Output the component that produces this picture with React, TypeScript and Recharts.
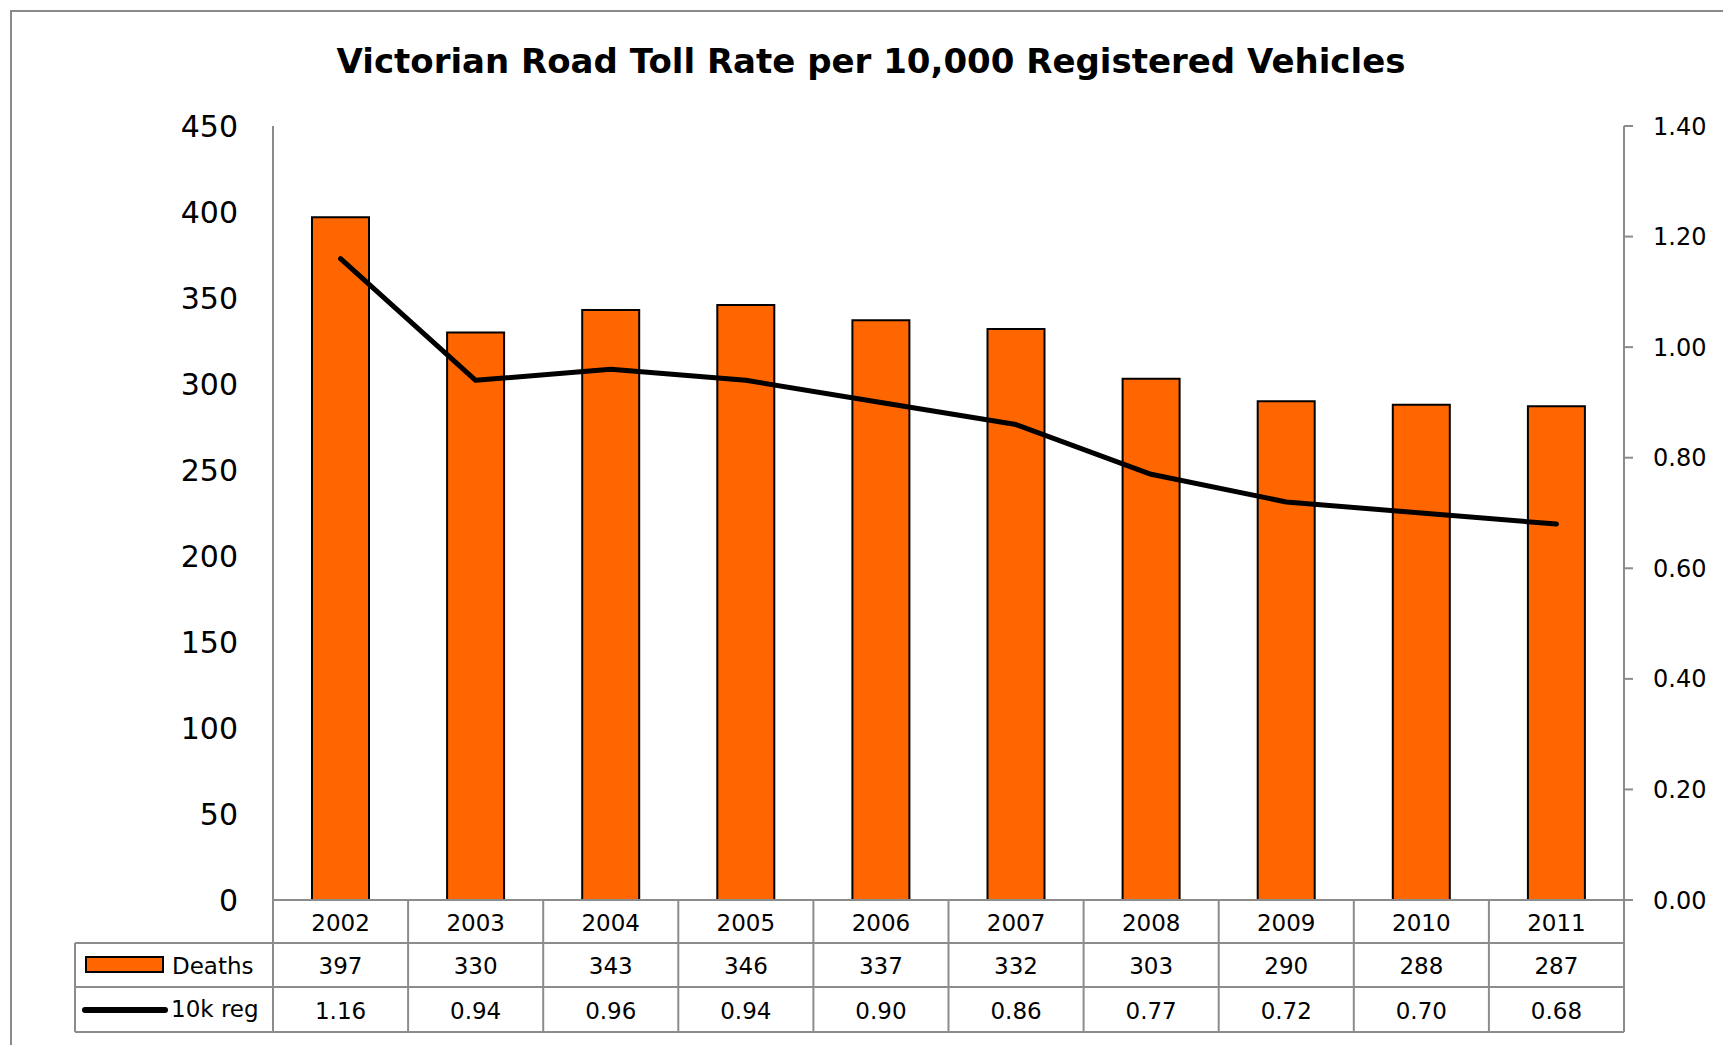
import React from 'react';
import { ComposedChart, Bar, Line, XAxis, YAxis } from 'recharts';

const years = ['2002', '2003', '2004', '2005', '2006', '2007', '2008', '2009', '2010', '2011'];
const deaths = [397, 330, 343, 346, 337, 332, 303, 290, 288, 287];
const ratePer10k = [1.16, 0.94, 0.96, 0.94, 0.9, 0.86, 0.77, 0.72, 0.7, 0.68];
const leftTicks = [0, 50, 100, 150, 200, 250, 300, 350, 400, 450];
const rightTicks = [0, 0.2, 0.4, 0.6, 0.8, 1.0, 1.2, 1.4];
const seriesNames = { deaths: 'Deaths', rate: '10k reg' };
const title = 'Victorian Road Toll Rate per 10,000 Registered Vehicles';

const data = years.map((y, i) => ({ year: y, deaths: deaths[i], rate: ratePer10k[i] }));

const W = 1723;
const H = 1045;
const PLOT_L = 273;
const PLOT_R = 1624;
const PLOT_T = 126;
const PLOT_B = 900;
const ROW1_B = 943;
const ROW2_B = 987;
const ROW3_B = 1032;
const TABLE_L = 75;
const BAND = (PLOT_R - PLOT_L) / years.length;
const GRID = '#8c8c8c';
const FONT = '"DejaVu Sans", Verdana, sans-serif';
const ORANGE = '#FF6600';
const LEFT_W = 60;
const RIGHT_W = 90;
const XAXIS_H = 132;

const TableTick = (props: any) => {
  const { x, payload } = props;
  const i = payload.index;
  const right = x + BAND / 2;
  const txt = { fontFamily: FONT, fontSize: 23, fill: '#000' };
  return (
    <g>
      <text x={x} y={(PLOT_B + ROW1_B) / 2 + 1} textAnchor="middle" dominantBaseline="central" {...txt}>
        {payload.value}
      </text>
      <text x={x} y={(ROW1_B + ROW2_B) / 2 + 1} textAnchor="middle" dominantBaseline="central" {...txt}>
        {deaths[i]}
      </text>
      <text x={x} y={(ROW2_B + ROW3_B) / 2 + 1} textAnchor="middle" dominantBaseline="central" {...txt}>
        {ratePer10k[i].toFixed(2)}
      </text>
      <line x1={right} x2={right} y1={PLOT_B} y2={ROW3_B} stroke={GRID} strokeWidth={2} />
      {i === 0 && (
        <g>
          <line x1={x - BAND / 2} x2={x - BAND / 2} y1={PLOT_B} y2={ROW3_B} stroke={GRID} strokeWidth={2} />
          <line x1={TABLE_L} x2={TABLE_L} y1={ROW1_B} y2={ROW3_B} stroke={GRID} strokeWidth={2} />
          <line x1={TABLE_L} x2={PLOT_R} y1={ROW1_B} y2={ROW1_B} stroke={GRID} strokeWidth={2} />
          <line x1={TABLE_L} x2={PLOT_R} y1={ROW2_B} y2={ROW2_B} stroke={GRID} strokeWidth={2} />
          <line x1={TABLE_L} x2={PLOT_R} y1={ROW3_B} y2={ROW3_B} stroke={GRID} strokeWidth={2} />
          <rect x={86} y={957} width={77} height={15} fill={ORANGE} stroke="#000" strokeWidth={2} />
          <text x={172} y={(ROW1_B + ROW2_B) / 2 + 1} dominantBaseline="central" {...txt}>
            {seriesNames.deaths}
          </text>
          <line x1={85} x2={165} y1={1010} y2={1010} stroke="#000" strokeWidth={6} strokeLinecap="round" />
          <text x={171} y={(ROW2_B + ROW3_B) / 2 - 1} dominantBaseline="central" {...txt}>
            {seriesNames.rate}
          </text>
        </g>
      )}
    </g>
  );
};

export default function App() {
  return (
    <div style={{ position: 'absolute', left: 0, top: 0, width: W, height: H, overflow: 'hidden', background: '#fff' }}>
      <div
        style={{
          position: 'absolute',
          left: 10,
          top: 10,
          width: W + 100,
          height: H + 100,
          borderLeft: '2px solid #8a8a8a',
          borderTop: '2px solid #8a8a8a',
        }}
      />
      <div
        style={{
          position: 'absolute',
          left: 0,
          top: 44,
          width: 1742,
          textAlign: 'center',
          fontFamily: FONT,
          fontWeight: 'bold',
          fontSize: 34,
          lineHeight: '34px',
          color: '#000',
          whiteSpace: 'nowrap',
        }}
      >
        {title}
      </div>
      <div style={{ position: 'absolute', left: 0, top: 0 }}>
        <ComposedChart
          width={W}
          height={H}
          data={data}
          margin={{
            top: PLOT_T,
            left: PLOT_L - LEFT_W,
            right: W - PLOT_R - RIGHT_W,
            bottom: H - PLOT_B - XAXIS_H,
          }}
          barCategoryGap="29%"
        >
          <XAxis
            dataKey="year"
            height={XAXIS_H}
            interval={0}
            axisLine={{ stroke: GRID, strokeWidth: 2 }}
            tickLine={false}
            tickSize={0}
            tick={<TableTick />}
          />
          <YAxis
            yAxisId="left"
            orientation="left"
            width={LEFT_W}
            domain={[0, 450]}
            ticks={leftTicks}
            interval={0}
            axisLine={{ stroke: GRID, strokeWidth: 2 }}
            tickLine={false}
            tickSize={0}
            tickMargin={35}
            tick={{ fontFamily: FONT, fontSize: 30, fill: '#000' }}
          />
          <YAxis
            yAxisId="right"
            orientation="right"
            width={RIGHT_W}
            domain={[0, 1.4]}
            ticks={rightTicks}
            interval={0}
            tickFormatter={(v: number) => v.toFixed(2)}
            axisLine={{ stroke: GRID, strokeWidth: 2 }}
            tickLine={{ stroke: GRID, strokeWidth: 2 }}
            tickSize={9}
            tickMargin={20}
            tick={{ fontFamily: FONT, fontSize: 24, fill: '#000' }}
          />
          <Bar
            yAxisId="left"
            dataKey="deaths"
            name={seriesNames.deaths}
            fill={ORANGE}
            stroke="#000"
            strokeWidth={2}
            barSize={57}
            isAnimationActive={false}
          />
          <Line
            yAxisId="right"
            dataKey="rate"
            name={seriesNames.rate}
            type="linear"
            stroke="#000"
            strokeWidth={5}
            strokeLinejoin="round"
            strokeLinecap="round"
            dot={false}
            activeDot={false}
            isAnimationActive={false}
          />
        </ComposedChart>
      </div>
    </div>
  );
}
